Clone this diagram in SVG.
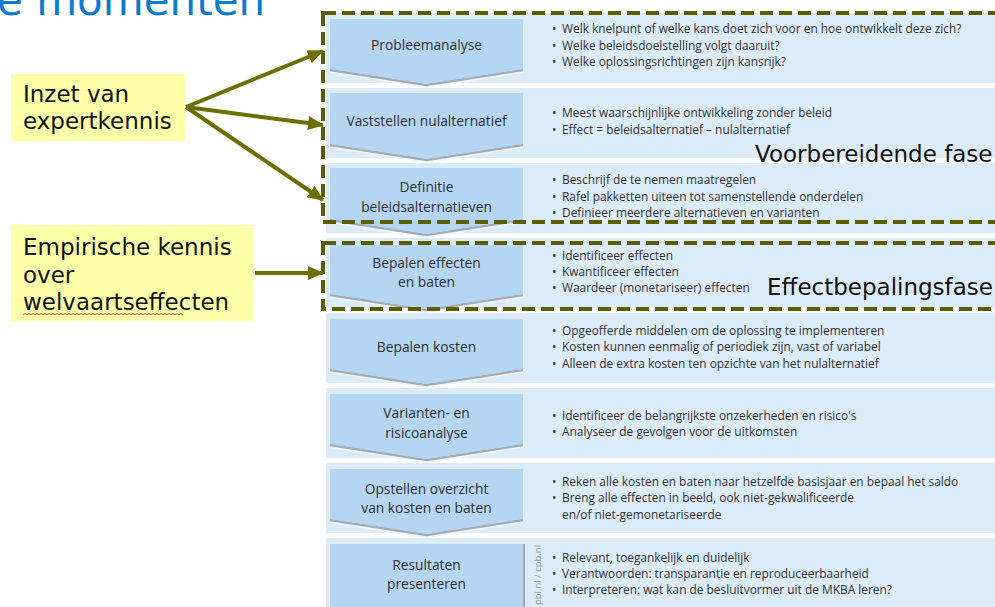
<svg xmlns="http://www.w3.org/2000/svg" width="995" height="607" viewBox="0 0 995 607">
<defs>
<style>
.panel{fill:#DCEBF8}
.chev{fill:#B5D6F3}
.shadow{fill:none;stroke:#A3AAB2;stroke-width:2.5}
.gloss{fill:none;stroke:#EEF5FC;stroke-width:2}
.lbl{font-family:"Open Sans","DejaVu Sans",sans-serif;font-size:13.8px;fill:#2E2E2E;text-anchor:middle}
.bul{font-family:"Open Sans","DejaVu Sans",sans-serif;font-size:11.9px;fill:#333333}
.big{font-family:"DejaVu Sans","Verdana",sans-serif;font-size:23px;fill:#111111}
.note{fill:#FFFFAA}
.dash{fill:none;stroke:#5C5C00;stroke-width:4;stroke-dasharray:13 6}
.arr{fill:none;stroke:#6E6E00;stroke-width:4}
</style>
<marker id="ah" markerWidth="16" markerHeight="14" refX="15" refY="7" orient="auto" markerUnits="userSpaceOnUse">
<path d="M0,0 L16,7 L0,14 Z" fill="#6E6E00"/>
</marker>
</defs>
<rect width="995" height="607" fill="#FFFFFF"/>
<text x="-3" y="15" font-family="DejaVu Sans, Verdana, sans-serif" font-size="42" fill="#0B7BCB">e momenten</text>

<g id="panels">
<rect class="panel" x="326" y="13" width="669" height="70"/>
<rect class="panel" x="326" y="88" width="669" height="70"/>
<rect class="panel" x="326" y="163" width="669" height="70"/>
<rect class="panel" x="326" y="238" width="669" height="70"/>
<rect class="panel" x="326" y="313" width="669" height="70"/>
<rect class="panel" x="326" y="388" width="669" height="70"/>
<rect class="panel" x="326" y="463" width="669" height="70"/>
<rect class="panel" x="326" y="538" width="669" height="69"/>
</g>

<g id="step1">
<polyline class="gloss" points="330,72 426.5,87 523,72"/>
<polyline class="shadow" points="330,70 426.5,85 523,70"/>
<path class="chev" d="M330,19 H523 V69 L426.5,84 L330,69 Z"/>
<text class="lbl" x="426.5" y="50">Probleemanalyse</text>
<text class="bul" y="33"><tspan x="552">•</tspan><tspan x="562">Welk knelpunt of welke kans doet zich voor en hoe ontwikkelt deze zich?</tspan></text>
<text class="bul" y="50"><tspan x="552">•</tspan><tspan x="562">Welke beleidsdoelstelling volgt daaruit?</tspan></text>
<text class="bul" y="66"><tspan x="552">•</tspan><tspan x="562">Welke oplossingsrichtingen zijn kansrijk?</tspan></text>
</g>
<g id="step2">
<polyline class="gloss" points="330,147 426.5,162 523,147"/>
<polyline class="shadow" points="330,145 426.5,160 523,145"/>
<path class="chev" d="M330,93 H523 V144 L426.5,159 L330,144 Z"/>
<text class="lbl" x="426.5" y="126">Vaststellen nulalternatief</text>
<text class="bul" y="117"><tspan x="552">•</tspan><tspan x="562">Meest waarschijnlijke ontwikkeling zonder beleid</tspan></text>
<text class="bul" y="134"><tspan x="552">•</tspan><tspan x="562">Effect = beleidsalternatief – nulalternatief</tspan></text>
</g>
<g id="step3">
<polyline class="gloss" points="330,222 426.5,237 523,222"/>
<polyline class="shadow" points="330,220 426.5,235 523,220"/>
<path class="chev" d="M330,168 H523 V219 L426.5,234 L330,219 Z"/>
<text class="lbl" x="426.5" y="192">Definitie</text>
<text class="lbl" x="426.5" y="212">beleidsalternatieven</text>
<text class="bul" y="184"><tspan x="552">•</tspan><tspan x="562">Beschrijf de te nemen maatregelen</tspan></text>
<text class="bul" y="201"><tspan x="552">•</tspan><tspan x="562">Rafel pakketten uiteen tot samenstellende onderdelen</tspan></text>
<text class="bul" y="217"><tspan x="552">•</tspan><tspan x="562">Definieer meerdere alternatieven en varianten</tspan></text>
</g>
<g id="step4">
<polyline class="gloss" points="330,297 426.5,312 523,297"/>
<polyline class="shadow" points="330,295 426.5,310 523,295"/>
<path class="chev" d="M330,245 H523 V294 L426.5,309 L330,294 Z"/>
<text class="lbl" x="426.5" y="268">Bepalen effecten</text>
<text class="lbl" x="426.5" y="287">en baten</text>
<text class="bul" y="260"><tspan x="552">•</tspan><tspan x="562">Identificeer effecten</tspan></text>
<text class="bul" y="276"><tspan x="552">•</tspan><tspan x="562">Kwantificeer effecten</tspan></text>
<text class="bul" y="292"><tspan x="552">•</tspan><tspan x="562">Waardeer (monetariseer) effecten</tspan></text>
</g>
<g id="step5">
<polyline class="gloss" points="330,372 426.5,387 523,372"/>
<polyline class="shadow" points="330,370 426.5,385 523,370"/>
<path class="chev" d="M330,319 H523 V369 L426.5,384 L330,369 Z"/>
<text class="lbl" x="426.5" y="352">Bepalen kosten</text>
<text class="bul" y="335"><tspan x="552">•</tspan><tspan x="562">Opgeofferde middelen om de oplossing te implementeren</tspan></text>
<text class="bul" y="351"><tspan x="552">•</tspan><tspan x="562">Kosten kunnen eenmalig of periodiek zijn, vast of variabel</tspan></text>
<text class="bul" y="368"><tspan x="552">•</tspan><tspan x="562">Alleen de extra kosten ten opzichte van het nulalternatief</tspan></text>
</g>
<g id="step6">
<polyline class="gloss" points="330,447 426.5,462 523,447"/>
<polyline class="shadow" points="330,445 426.5,460 523,445"/>
<path class="chev" d="M330,394 H523 V444 L426.5,459 L330,444 Z"/>
<text class="lbl" x="426.5" y="418">Varianten- en</text>
<text class="lbl" x="426.5" y="438">risicoanalyse</text>
<text class="bul" y="420"><tspan x="552">•</tspan><tspan x="562">Identificeer de belangrijkste onzekerheden en risico's</tspan></text>
<text class="bul" y="436"><tspan x="552">•</tspan><tspan x="562">Analyseer de gevolgen voor de uitkomsten</tspan></text>
</g>
<g id="step7">
<polyline class="gloss" points="330,522 426.5,537 523,522"/>
<polyline class="shadow" points="330,520 426.5,535 523,520"/>
<path class="chev" d="M330,469 H523 V519 L426.5,534 L330,519 Z"/>
<text class="lbl" x="426.5" y="494">Opstellen overzicht</text>
<text class="lbl" x="426.5" y="513">van kosten en baten</text>
<text class="bul" y="486"><tspan x="552">•</tspan><tspan x="562">Reken alle kosten en baten naar hetzelfde basisjaar en bepaal het saldo</tspan></text>
<text class="bul" y="502"><tspan x="552">•</tspan><tspan x="562">Breng alle effecten in beeld, ook niet-gekwalificeerde</tspan></text>
<text class="bul" y="519"><tspan x="562">en/of niet-gemonetariseerde</tspan></text>
</g>
<g id="step8">
<rect x="523" y="544" width="2" height="63" fill="#A3AAB2"/>
<rect class="chev" x="330" y="544" width="193" height="63"/>
<text class="lbl" x="426.5" y="570">Resultaten</text>
<text class="lbl" x="426.5" y="589">presenteren</text>
<text class="bul" y="562"><tspan x="552">•</tspan><tspan x="562">Relevant, toegankelijk en duidelijk</tspan></text>
<text class="bul" y="578"><tspan x="552">•</tspan><tspan x="562">Verantwoorden: transparantie en reproduceerbaarheid</tspan></text>
<text class="bul" y="594"><tspan x="552">•</tspan><tspan x="562">Interpreteren: wat kan de besluitvormer uit de MKBA leren?</tspan></text>
<text transform="translate(541,605) rotate(-90)" font-family="Open Sans, DejaVu Sans, sans-serif" font-size="9.5" fill="#9A9A9A">pbl.nl / cpb.nl</text>
</g>

<g id="phase-prep">
<rect class="dash" x="323" y="13" width="700" height="209"/>
<text class="big" x="755" y="162">Voorbereidende fase</text>
</g>
<g id="phase-effect">
<rect class="dash" x="323" y="243" width="700" height="66"/>
<text class="big" x="767" y="295">Effectbepalingsfase</text>
</g>

<g id="expert">
<rect class="note" x="11" y="74" width="174" height="67"/>
<text class="big" x="23" y="102">Inzet van</text>
<text class="big" x="23" y="129">expertkennis</text>
</g>
<g id="empirical">
<rect class="note" x="11" y="225" width="243" height="96"/>
<text class="big" x="23" y="255">Empirische kennis</text>
<text class="big" x="23" y="283">over</text>
<text class="big" x="23" y="310">welvaartseffecten</text>
<path d="M23 315 l2-1.5l2 1.5l2-1.5l2 1.5l2-1.5l2 1.5l2-1.5l2 1.5l2-1.5l2 1.5l2-1.5l2 1.5l2-1.5l2 1.5l2-1.5l2 1.5l2-1.5l2 1.5l2-1.5l2 1.5l2-1.5l2 1.5l2-1.5l2 1.5l2-1.5l2 1.5l2-1.5l2 1.5l2-1.5l2 1.5l2-1.5l2 1.5l2-1.5l2 1.5l2-1.5l2 1.5l2-1.5l2 1.5l2-1.5l2 1.5l2-1.5l2 1.5l2-1.5l2 1.5l2-1.5l2 1.5l2-1.5l2 1.5l2-1.5l2 1.5l2-1.5l2 1.5l2-1.5l2 1.5l2-1.5l2 1.5l2-1.5l2 1.5l2-1.5l2 1.5l2-1.5l2 1.5l2-1.5l2 1.5l2-1.5l2 1.5l2-1.5l2 1.5l2-1.5l2 1.5l2-1.5l2 1.5l2-1.5l2 1.5l2-1.5l2 1.5l2-1.5l2 1.5l2-1.5l2 1.5" fill="none" stroke="#E83A3A" stroke-width="0.9"/>
</g>

<g id="connectors">
<line class="arr" x1="186" y1="107" x2="323" y2="51" marker-end="url(#ah)"/>
<line class="arr" x1="186" y1="107" x2="323" y2="125" marker-end="url(#ah)"/>
<line class="arr" x1="186" y1="107" x2="323" y2="200" marker-end="url(#ah)"/>
<line class="arr" x1="255" y1="273" x2="323" y2="273" marker-end="url(#ah)"/>
</g>
</svg>
